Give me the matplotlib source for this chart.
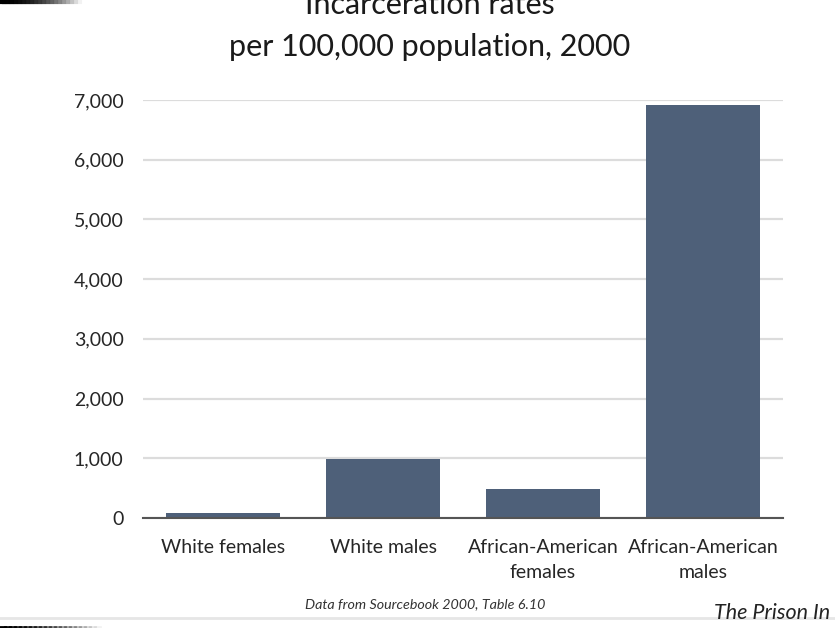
import matplotlib.pyplot as plt
from matplotlib.lines import Line2D
from matplotlib.ticker import FuncFormatter

# data
groups = ['White females', 'White males', 'African-American\nfemales', 'African-American\nmales']
rates = [80, 990, 485, 6920]
yticks = [0, 1000, 2000, 3000, 4000, 5000, 6000, 7000]

bar_color = '#4e6079'
text_color = '#262626'

plt.rcParams['font.family'] = ['Lato', 'DejaVu Sans']

fig = plt.figure(figsize=(8.35, 6.28), dpi=100)
ax = fig.add_axes([143/835, 110/628, 640/835, 418/628])

ax.bar(range(len(groups)), rates, width=0.71, color=bar_color, zorder=3)

ax.set_xlim(-0.5, len(groups) - 0.5)
ax.set_ylim(0, 7000)
ax.set_yticks(yticks)
ax.yaxis.set_major_formatter(FuncFormatter(lambda v, p: f'{int(v):,}'))
ax.set_xticks(range(len(groups)))
ax.set_xticklabels(groups, linespacing=1.55)
ax.tick_params(axis='y', length=0, pad=14, labelsize=14, labelcolor=text_color)
ax.tick_params(axis='x', length=0, pad=15, labelsize=14, labelcolor=text_color)

ax.grid(axis='y', color='#dcdcdc', linewidth=1.6, zorder=0)
ax.set_axisbelow(True)
for s in ['top', 'right', 'left']:
    ax.spines[s].set_visible(False)
ax.spines['bottom'].set_color('#555555')
ax.spines['bottom'].set_linewidth(1.5)
ax.spines['bottom'].set_zorder(4)

# title, top line is cut off by the frame as in the photo
fig.text(430/835, 1 - 14/628, 'Incarceration rates', ha='center', va='baseline',
         fontsize=22, color='#1a1a1a')
fig.text(430/835, 1 - 56/628, 'per 100,000 population, 2000', ha='center', va='baseline',
         fontsize=22, color='#1a1a1a')

fig.text(425/835, 1 - 604/628, 'Data from Sourcebook 2000, Table 6.10', ha='center', va='center',
         fontsize=10.3, style='italic', color='#333333')
fig.text(714/835, 1 - 613/628, 'The Prison In', ha='left', va='center',
         fontsize=15.5, style='italic', color='#222222')

# screen-photo edges
fig.add_artist(Line2D([0, 1], [1 - 618/628, 1 - 618/628], transform=fig.transFigure,
                      color='#e6e6e6', linewidth=2))
n = 20
for i in range(n):
    a = 1 - i / n
    fig.add_artist(Line2D([i * 4/835, (i + 1) * 4/835], [1 - 1.5/628, 1 - 1.5/628],
                          transform=fig.transFigure, color='black', alpha=a, linewidth=3))
    fig.add_artist(Line2D([i * 5/835, (i + 1) * 5/835], [1 - 626.5/628, 1 - 626.5/628],
                          transform=fig.transFigure, color='black', alpha=a, linewidth=2))

fig.savefig('out.png', dpi=100)
